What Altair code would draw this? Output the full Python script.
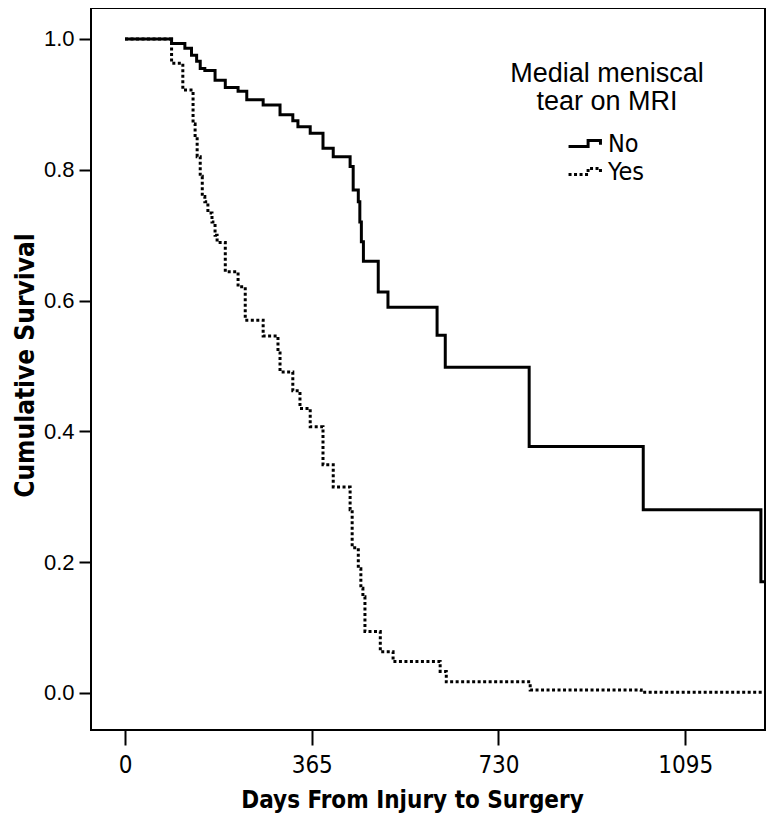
import altair as alt
import pandas as pd

# Kaplan-Meier steps (days, cumulative survival after the step)
groups = ["No", "Yes"]

no_days = [0, 91, 117, 130, 140, 147, 156, 176, 196, 221, 238, 270, 303, 328, 338, 362,
           387, 407, 440, 446, 456, 459, 462, 466, 495, 514, 610, 626, 790, 1013, 1243, 1261]
no_surv = [1.0, 0.993, 0.986, 0.975, 0.966, 0.955, 0.952, 0.937, 0.926, 0.920, 0.907, 0.899,
           0.884, 0.875, 0.866, 0.856, 0.833, 0.820, 0.805, 0.769, 0.751, 0.720, 0.690, 0.660,
           0.613, 0.590, 0.547, 0.498, 0.377, 0.280, 0.170, 0.170]

yes_days = [0, 91, 113, 133, 137, 141, 147, 151, 156, 162, 170, 176, 180, 196, 221, 235, 270,
            299, 303, 328, 342, 362, 387, 407, 440, 444, 456, 461, 465, 469, 499, 524, 616, 628,
            792, 1009, 1261]
yes_surv = [1.0, 0.963, 0.922, 0.87, 0.85, 0.82, 0.79, 0.759, 0.751, 0.734, 0.72, 0.70, 0.689,
            0.644, 0.621, 0.570, 0.546, 0.52, 0.491, 0.462, 0.435, 0.407, 0.349, 0.315, 0.28,
            0.222, 0.19, 0.16, 0.147, 0.094, 0.063, 0.048, 0.033, 0.017, 0.0046, 0.001, 0.001]

x_ticks = [0, 365, 730, 1095]
y_ticks = [0.0, 0.2, 0.4, 0.6, 0.8, 1.0]

rows = []
for d, s in zip(no_days, no_surv):
    rows.append({"days": d, "surv": s, "tear": "No"})
for d, s in zip(yes_days, yes_surv):
    rows.append({"days": d, "surv": s, "tear": "Yes"})
df = pd.DataFrame(rows)

NARROW = "Liberation Sans Narrow, Arial Narrow, DejaVu Sans Condensed, sans-serif"
REG = "Liberation Sans, Arial, sans-serif"

chart = alt.Chart(df).mark_line(
    interpolate="step-after", color="black", strokeWidth=3, clip=True, strokeCap="butt"
).encode(
    x=alt.X(
        "days:Q",
        scale=alt.Scale(domain=[-66.5, 1251], nice=False, zero=False),
        axis=alt.Axis(
            values=x_ticks, format="d", domain=False, grid=False,
            tickColor="black", tickWidth=2, tickSize=15,
            labelFont=NARROW, labelFontSize=24, labelColor="black", labelPadding=8,
            labelFlush=False, labelOverlap=False,
            title="Days From Injury to Surgery", titleFont=NARROW, titleFontSize=24,
            titleFontWeight="bold", titleColor="black", titleX=321, titleY=77,
            titleBaseline="alphabetic", titleAlign="center",
        ),
    ),
    y=alt.Y(
        "surv:Q",
        scale=alt.Scale(domain=[-0.0566, 1.0474], nice=False, zero=False),
        axis=alt.Axis(
            values=y_ticks, format=".1f", domain=False, grid=False,
            tickColor="black", tickWidth=2, tickSize=12,
            labelFont=REG, labelFontSize=22, labelColor="black", labelPadding=5,
            labelOverlap=False,
            title="Cumulative Survival", titleFont=NARROW, titleFontSize=26,
            titleFontWeight="bold", titleColor="black", titleX=-66, titleY=357,
            titleBaseline="middle", titleAlign="center", titleAngle=270,
        ),
    ),
    strokeDash=alt.StrokeDash(
        "tear:N",
        scale=alt.Scale(domain=groups, range=[[1, 0], [3, 2.5]]),
        legend=alt.Legend(
            title=["Medial meniscal", "tear on MRI"], orient="none",
            legendX=419, legendY=53, padding=0,
            titleFont=REG, titleFontSize=27, titleFontWeight="normal", titleColor="black",
            titleAlign="center", titleAnchor="middle", titleLineHeight=28, titlePadding=14,
            titleLimit=500,
            labelFont=NARROW, labelFontSize=25, labelColor="black", labelOffset=10,
            symbolType="M-1.33,0.25H0.3V-0.25H1.33V0.1", symbolSize=576,
            symbolStrokeWidth=3, symbolStrokeColor="black", symbolFillColor="transparent",
            rowPadding=1,
        ),
    ),
).properties(
    width=674, height=722,
    padding={"left": 83, "top": 0, "right": 1, "bottom": 85},
    autosize="none",
).configure_view(stroke="black", strokeWidth=2)

chart.save("out.html", embed_options={"renderer": "svg", "actions": False})
